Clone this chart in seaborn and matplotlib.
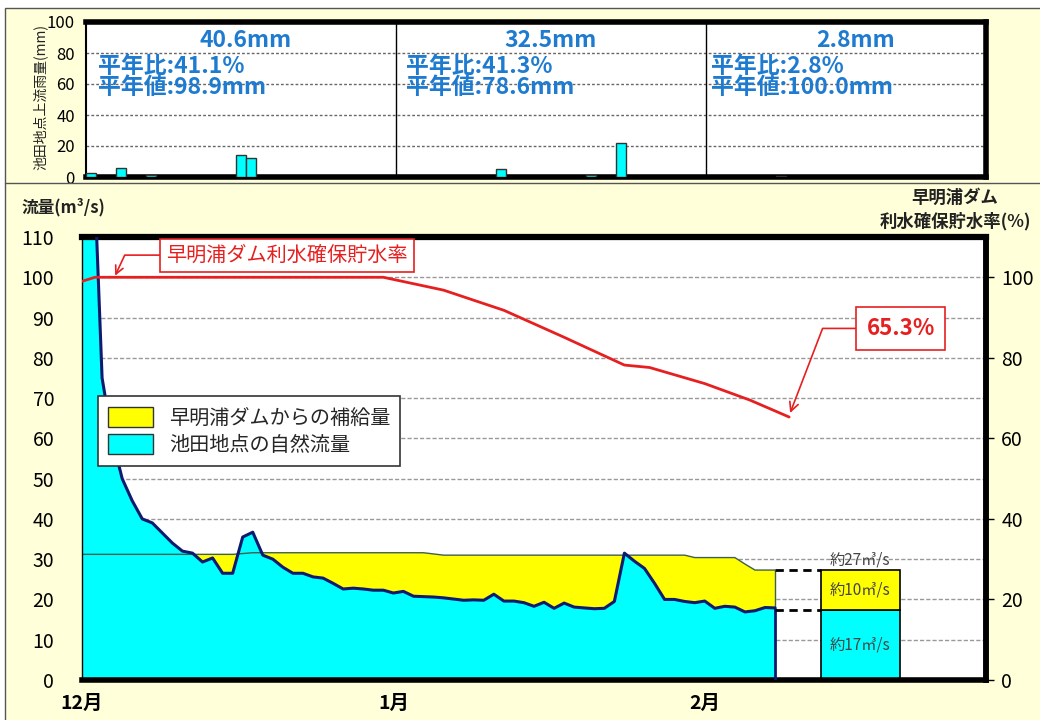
import numpy as np
import matplotlib
matplotlib.use("Agg")
import matplotlib.pyplot as plt
import seaborn as sns
from matplotlib.patches import Patch, Rectangle
from matplotlib.lines import Line2D

# ---------------- data ----------------
month_starts = [0, 31, 62]
month_labels = ["12月", "1月", "2月"]

rain_days = [0, 3, 6, 15, 16, 41, 50, 53, 69]
rain_mm = [2.5, 5.5, 1.5, 14, 12, 5, 1.5, 22, 0.8]
month_rain = ["40.6mm", "32.5mm", "2.8mm"]
month_ratio = ["平年比:41.1%", "平年比:41.3%", "平年比:2.8%"]
month_normal = ["平年値:98.9mm", "平年値:78.6mm", "平年値:100.0mm"]
month_text_center = [16, 46.5, 77]
month_text_left = [1.2, 32, 62.5]

flow_days = list(range(70))
natural_flow = [160, 140, 75, 60, 50, 44.5, 40, 39, 36.5, 34,
                32, 31.5, 29.3, 30.3, 26.5, 26.5, 35.5, 36.7, 31, 30,
                28, 26.5, 26.5, 25.6, 25.3, 24, 22.6, 22.8, 22.6, 22.3,
                22.3, 21.6, 22, 20.8, 20.7, 20.6, 20.4, 20.1, 19.8, 19.9,
                19.8, 21.3, 19.6, 19.6, 19.2, 18.3, 19.3, 17.8, 19.1, 18.1,
                17.9, 17.7, 17.8, 19.5, 31.5, 29.5, 27.7, 24, 20, 20,
                19.5, 19.2, 19.6, 17.8, 18.3, 18.1, 16.9, 17.2, 18, 17.9]
total_flow = [31.2] * 16 + [31.4] + [31.6] * 18 + [31.3] + [31.0] * 25 + \
             [30.4] * 5 + [28.8] + [27.3] * 3

storage_days = [0, 1.3, 30, 36, 42, 48, 54, 56.5, 62, 66.5, 70.4]
storage_rate = [99, 100, 100, 96.8, 91.8, 85.1, 78.2, 77.6, 73.6, 69.5, 65.3]

bar_center = 77.5
bar_natural = 17.5
bar_supply = 9.8
bar_labels = ["約27㎥/s", "約10㎥/s", "約17㎥/s"]

CYAN = "#00FFFF"
YELLOW = "#FFFF00"
NAVY = "#0d1a6e"
RED = "#E62020"
BLUE = "#1E7BD0"
OLIVE = "#3f5f4f"

# ---------------- style ----------------
sns.set_theme(style="white")
plt.rcParams["font.family"] = ["Noto Sans CJK JP", "DejaVu Sans"]
plt.rcParams["axes.unicode_minus"] = False

fig = plt.figure(figsize=(10.4, 7.2), dpi=100)
fig.patch.set_facecolor("white")
fig.add_artist(Rectangle((5 / 1040, -0.01), 1.2, 1 - 8 / 720 + 0.01,
                         transform=fig.transFigure, facecolor="#FFFFD9",
                         edgecolor="#555555", lw=1, zorder=-10))
fig.add_artist(Line2D([5 / 1040, 1], [1 - 183 / 720] * 2,
                      transform=fig.transFigure, color="#555555", lw=1))

ax_top = fig.add_axes([86 / 1040, 1 - 177 / 720, 900 / 1040, 155 / 720])
ax = fig.add_axes([82 / 1040, 1 - 680 / 720, 904 / 1040, 443 / 720])

# ---------------- top panel: rainfall ----------------
ax_top.set_facecolor("white")
ax_top.bar(np.array(rain_days) + 0.5, rain_mm, width=1.0, color=CYAN,
           edgecolor="#333333", lw=1, zorder=3)
ax_top.set_xlim(0, 90)
ax_top.set_ylim(0, 100)
ax_top.set_yticks(range(0, 101, 20))
ax_top.set_xticks([])
ax_top.grid(axis="y", color="#666666", ls=(0, (2, 1.5)), lw=1)
ax_top.set_axisbelow(True)
for m in month_starts[1:]:
    ax_top.axvline(m, color="black", lw=1)
for s, w in [("top", 4), ("bottom", 4), ("right", 4), ("left", 1.5)]:
    ax_top.spines[s].set_linewidth(w)
    ax_top.spines[s].set_color("black")
ax_top.tick_params(axis="y", length=0, pad=8, labelsize=12, colors="black")
for c, l, a, b, n in zip(month_text_center, month_text_left, month_rain,
                         month_ratio, month_normal):
    ax_top.text(c, 88, a, ha="center", va="center", fontsize=16.5,
                fontweight="bold", color=BLUE)
    ax_top.text(l, 71.5, b, ha="left", va="center", fontsize=16.5,
                fontweight="bold", color=BLUE)
    ax_top.text(l, 58, n, ha="left", va="center", fontsize=16.5,
                fontweight="bold", color=BLUE)
fig.text(40 / 1040, 1 - 97 / 720, "池田地点上流雨量(mm)", rotation=90,
         ha="center", va="center", fontsize=10, color="#222222")

# ---------------- bottom panel: flow ----------------
ax.set_facecolor("white")
nat = np.array(natural_flow)
tot = np.array(total_flow)
ax.fill_between(flow_days, 0, nat, color=CYAN, lw=0, zorder=1)
ax.fill_between(flow_days, nat, tot, where=tot >= nat, interpolate=True,
                color=YELLOW, lw=0, zorder=1)
sns.lineplot(x=flow_days, y=total_flow, ax=ax, color=OLIVE, lw=1, zorder=2)
sns.lineplot(x=flow_days, y=natural_flow, ax=ax, color=NAVY, lw=2.2, zorder=3)
ax.vlines(flow_days[-1], natural_flow[-1], total_flow[-1], color=OLIVE, lw=1, zorder=2)
ax.vlines(flow_days[-1], 0, natural_flow[-1], color=NAVY, lw=2, zorder=3)

# average bar
ax.bar(bar_center, bar_natural, width=7.8, color=CYAN, edgecolor="black", lw=1.2, zorder=2)
ax.bar(bar_center, bar_supply, bottom=bar_natural, width=7.8, color=YELLOW,
       edgecolor="black", lw=1.2, zorder=2)
ax.hlines([bar_natural + bar_supply, bar_natural], flow_days[-1], bar_center - 3.9,
          colors="black", linestyles=(0, (3, 2)), lw=2, zorder=3)
ax.text(bar_center, 29.8, bar_labels[0], ha="center", va="center", fontsize=11, color="#444444")
ax.text(bar_center, bar_natural + bar_supply / 2, bar_labels[1], ha="center",
        va="center", fontsize=11, color="#444444")
ax.text(bar_center, bar_natural / 2, bar_labels[2], ha="center", va="center",
        fontsize=11, color="#444444")

ax.set_xlim(0, 90)
ax.set_ylim(0, 110)
ax.set_yticks(range(0, 111, 10))
ax.set_xticks(month_starts, month_labels)
ax.grid(axis="y", color="#999999", ls=(0, (3, 1.5)), lw=1)
ax.grid(axis="x", visible=False)
ax.set_axisbelow(True)
ax.tick_params(axis="y", length=0, pad=20, labelsize=14, colors="black")
ax.tick_params(axis="x", length=0, pad=10, labelsize=14, colors="black")
for t in ax.get_xticklabels():
    t.set_fontweight("bold")
for s, w in [("top", 4.5), ("bottom", 4), ("right", 4), ("left", 1)]:
    ax.spines[s].set_linewidth(w)
    ax.spines[s].set_color("black")
ax.set_xlabel("")
ax.set_ylabel("")

handles = [Patch(facecolor=YELLOW, edgecolor="#333333", label="早明浦ダムからの補給量"),
           Patch(facecolor=CYAN, edgecolor="#333333", label="池田地点の自然流量")]
leg = ax.legend(handles=handles, loc="upper left", bbox_to_anchor=(0.018, 0.64),
                fontsize=14.5, frameon=True, fancybox=False, edgecolor="#333333",
                framealpha=1, handlelength=2.2, handleheight=1.2, borderpad=0.5,
                labelspacing=0.25, borderaxespad=0)
leg.get_frame().set_linewidth(1.2)
leg.set_zorder(5)

# storage rate on right axis
ax2 = ax.twinx()
sns.lineplot(x=storage_days, y=storage_rate, ax=ax2, color=RED, lw=2)
ax2.set_ylim(0, 110)
ax2.set_xlim(0, 90)
ax2.set_yticks(range(0, 101, 20))
ax2.set_ylabel("")
ax2.grid(False)
for s in ["top", "bottom", "left"]:
    ax2.spines[s].set_visible(False)
ax2.spines["right"].set_linewidth(4)
ax2.spines["right"].set_color("black")
ax2.tick_params(axis="y", length=6, width=1, pad=5, labelsize=14, colors="black",
                direction="out")

ax2.annotate("早明浦ダム利水確保貯水率", xy=(3.3, 100.4), xytext=(20.4, 105.5),
             ha="center", va="center", fontsize=14.5, color=RED,
             bbox=dict(boxstyle="square,pad=0.3", fc="white", ec=RED, lw=1.2),
             arrowprops=dict(arrowstyle="->", color=RED, lw=1.2, shrinkA=0, shrinkB=0,
                             connectionstyle="angle,angleA=0,angleB=65,rad=0"))
ax2.annotate("65.3%", xy=(70.5, 66.3), xytext=(81.5, 87.3),
             ha="center", va="center", fontsize=16, fontweight="bold", color=RED,
             bbox=dict(boxstyle="square,pad=0.45", fc="white", ec=RED, lw=1.2),
             arrowprops=dict(arrowstyle="->", color=RED, lw=1.2, shrinkA=0, shrinkB=0,
                             connectionstyle="angle,angleA=0,angleB=69,rad=0"))

fig.text(22 / 1040, 1 - 207 / 720, "流量(m³/s)", ha="left", va="center",
         fontsize=12, fontweight="bold", color="#222222")
fig.text(955 / 1040, 1 - 210 / 720, "早明浦ダム\n利水確保貯水率(%)", ha="center",
         va="center", fontsize=12.5, fontweight="bold", color="#222222",
         linespacing=1.35, multialignment="center")

fig.savefig("out.png", dpi=100, facecolor=fig.get_facecolor())
